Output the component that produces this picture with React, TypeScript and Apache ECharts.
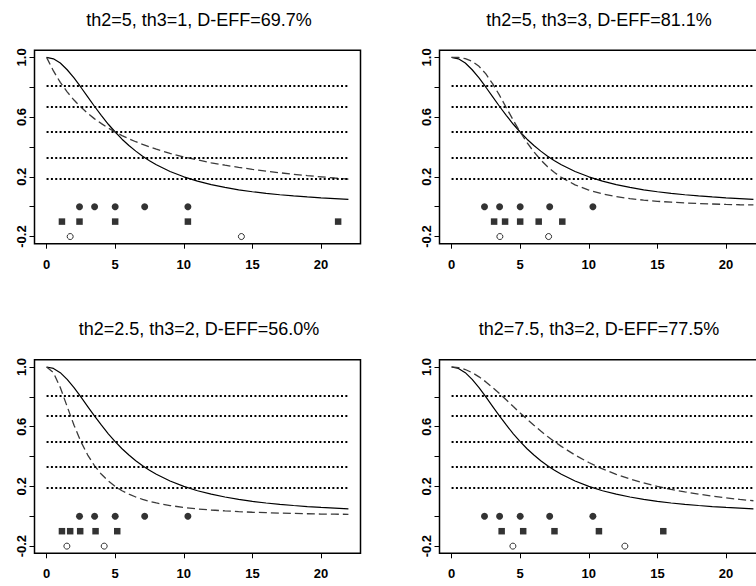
import React, { useEffect, useRef } from "react";
import * as echarts from "echarts";

// ---- data ----
const X_GRID = [0, 0.5, 1, 1.5, 2, 2.5, 3, 3.5, 4, 4.5, 5, 5.5, 6, 6.5, 7, 7.5, 8, 9, 10, 11, 12, 13, 14, 15, 16, 17, 18, 19, 20, 21, 22];

// solid reference curve (same in every panel)
const SOLID_Y = [1, 0.99, 0.962, 0.917, 0.862, 0.8, 0.735, 0.671, 0.61, 0.552, 0.5, 0.452, 0.41, 0.372, 0.338, 0.308, 0.281, 0.236, 0.2, 0.171, 0.148, 0.129, 0.113, 0.1, 0.089, 0.08, 0.072, 0.065, 0.059, 0.054, 0.049];

// dashed curves, one per panel
const DASH_P1 = [1, 0.909, 0.833, 0.769, 0.714, 0.667, 0.625, 0.588, 0.556, 0.526, 0.5, 0.476, 0.455, 0.435, 0.417, 0.4, 0.385, 0.357, 0.333, 0.313, 0.294, 0.278, 0.263, 0.25, 0.238, 0.227, 0.217, 0.208, 0.2, 0.192, 0.185];
const DASH_P2 = [1, 0.999, 0.992, 0.974, 0.94, 0.889, 0.822, 0.745, 0.661, 0.578, 0.5, 0.429, 0.367, 0.313, 0.267, 0.229, 0.196, 0.146, 0.111, 0.086, 0.067, 0.054, 0.044, 0.036, 0.03, 0.025, 0.021, 0.018, 0.015, 0.013, 0.012];
const DASH_P3 = [1, 0.962, 0.862, 0.735, 0.61, 0.5, 0.41, 0.338, 0.281, 0.236, 0.2, 0.171, 0.148, 0.129, 0.113, 0.1, 0.089, 0.072, 0.059, 0.049, 0.042, 0.036, 0.031, 0.027, 0.024, 0.021, 0.019, 0.017, 0.015, 0.014, 0.013];
const DASH_P4 = [1, 0.996, 0.983, 0.962, 0.934, 0.9, 0.862, 0.821, 0.779, 0.735, 0.692, 0.65, 0.61, 0.571, 0.534, 0.5, 0.468, 0.41, 0.36, 0.317, 0.281, 0.25, 0.223, 0.2, 0.18, 0.163, 0.148, 0.135, 0.123, 0.113, 0.104];

// dotted horizontal reference levels
const DOTTED_LEVELS = [0.81, 0.67, 0.5, 0.33, 0.19];

// design points
const FILLED_CIRCLES_X = [2.4, 3.5, 5, 7.15, 10.3];
const FILLED_CIRCLES_Y = 0;
const SQUARES_Y = -0.1;
const OPEN_CIRCLES_Y = -0.2;
const SQUARES_P1 = [1.12, 2.4, 5, 10.3, 21.25];
const OPEN_P1 = [1.72, 14.2];
const SQUARES_P2 = [3.1, 3.9, 5, 6.35, 8.07];
const OPEN_P2 = [3.52, 7.07];
const SQUARES_P3 = [1.12, 1.72, 2.45, 3.57, 5.15];
const OPEN_P3 = [1.48, 4.2];
const SQUARES_P4 = [3.65, 5.22, 7.5, 10.74, 15.43];
const OPEN_P4 = [4.47, 12.63];

const TITLES = [
  "th2=5, th3=1, D-EFF=69.7%",
  "th2=5, th3=3, D-EFF=81.1%",
  "th2=2.5, th3=2, D-EFF=56.0%",
  "th2=7.5, th3=2, D-EFF=77.5%",
];

const X_TICKS = [0, 5, 10, 15, 20];
const Y_TICKS = [-0.2, 0, 0.2, 0.4, 0.6, 0.8, 1.0];
const Y_LABELS = [-0.2, 0.2, 0.6, 1.0];

const X_MIN = -0.88, X_MAX = 22.88, Y_MIN = -0.248, Y_MAX = 1.048;

// ---- layout ----
const FONT = "'Liberation Sans', Arial, Helvetica, sans-serif";
const GRIDS = [
  { left: 34.5, top: 50.2, width: 326, height: 193.5 },
  { left: 439.5, top: 50.2, width: 326, height: 193.5 },
  { left: 34.5, top: 359.8, width: 326, height: 193.5 },
  { left: 439.5, top: 359.8, width: 326, height: 193.5 },
];
const TITLE_POS = [
  { x: 199, y: 20 },
  { x: 599, y: 20 },
  { x: 199, y: 329 },
  { x: 599, y: 329 },
];

const PANELS = [
  { dash: DASH_P1, squares: SQUARES_P1, open: OPEN_P1 },
  { dash: DASH_P2, squares: SQUARES_P2, open: OPEN_P2 },
  { dash: DASH_P3, squares: SQUARES_P3, open: OPEN_P3 },
  { dash: DASH_P4, squares: SQUARES_P4, open: OPEN_P4 },
];

function buildOption() {
  const grid = GRIDS.map((g) => ({
    ...g,
    show: true,
    borderColor: "#000",
    borderWidth: 1.5,
    backgroundColor: "transparent",
    containLabel: false,
    outerBoundsMode: "none",
  }));
  const xAxis = GRIDS.map((_, i) => ({
    type: "value",
    gridIndex: i,
    position: "bottom",
    min: X_MIN,
    max: X_MAX,
    axisLine: { show: false, onZero: false },
    splitLine: { show: false },
    axisTick: { show: true, inside: false, length: 5, customValues: X_TICKS, lineStyle: { color: "#000", width: 1 } },
    axisLabel: {
      show: true,
      customValues: X_TICKS,
      margin: 14,
      fontSize: 13,
      fontWeight: "bold",
      fontFamily: FONT,
      color: "#000",
      formatter: (v: number) => String(v),
    },
  }));
  const yAxis = GRIDS.map((_, i) => ({
    type: "value",
    gridIndex: i,
    position: "left",
    min: Y_MIN,
    max: Y_MAX,
    axisLine: { show: false, onZero: false },
    splitLine: { show: false },
    axisTick: { show: true, inside: false, length: 5, customValues: Y_TICKS, lineStyle: { color: "#000", width: 1 } },
    axisLabel: {
      show: true,
      customValues: Y_LABELS,
      rotate: 90,
      margin: 7,
      fontSize: 13,
      fontWeight: "bold",
      fontFamily: FONT,
      color: "#000",
      formatter: (v: number) => v.toFixed(1),
    },
  }));

  const series: any[] = [];
  PANELS.forEach((p, i) => {
    // dotted reference levels
    series.push({
      type: "line",
      xAxisIndex: i,
      yAxisIndex: i,
      data: [],
      silent: true,
      markLine: {
        silent: true,
        symbol: ["none", "none"],
        label: { show: false },
        lineStyle: { color: "#000", width: 2, type: [2, 2.33], cap: "butt" },
        data: DOTTED_LEVELS.map((lv) => [{ coord: [0, lv] }, { coord: [22, lv] }]),
      },
    });
    series.push({
      type: "line",
      xAxisIndex: i,
      yAxisIndex: i,
      data: X_GRID.map((x, k) => [x, SOLID_Y[k]]),
      symbol: "none",
      lineStyle: { color: "#000", width: 1.2, type: "solid" },
    });
    series.push({
      type: "line",
      xAxisIndex: i,
      yAxisIndex: i,
      data: X_GRID.map((x, k) => [x, p.dash[k]]),
      symbol: "none",
      lineStyle: { color: "#3a3a3a", width: 1.3, type: [8, 4] },
    });
    series.push({
      type: "scatter",
      xAxisIndex: i,
      yAxisIndex: i,
      data: FILLED_CIRCLES_X.map((x) => [x, FILLED_CIRCLES_Y]),
      symbol: "circle",
      symbolSize: 7,
      itemStyle: { color: "#000" },
    });
    series.push({
      type: "scatter",
      xAxisIndex: i,
      yAxisIndex: i,
      data: p.squares.map((x) => [x, SQUARES_Y]),
      symbol: "rect",
      symbolSize: 6.5,
      itemStyle: { color: "#000" },
    });
    series.push({
      type: "scatter",
      xAxisIndex: i,
      yAxisIndex: i,
      data: p.open.map((x) => [x, OPEN_CIRCLES_Y]),
      symbol: "circle",
      symbolSize: 6,
      itemStyle: { color: "#fff", borderColor: "#000", borderWidth: 1 },
    });
  });

  const graphic = TITLES.map((t, i) => ({
    type: "text",
    x: TITLE_POS[i].x,
    y: TITLE_POS[i].y,
    style: {
      text: t,
      fontSize: 18,
      fontFamily: FONT,
      fill: "#000",
      align: "center",
      verticalAlign: "middle",
    },
  }));

  return {
    animation: false,
    backgroundColor: "#fff",
    grid,
    xAxis,
    yAxis,
    series,
    graphic,
  };
}

export default function App() {
  const ref = useRef<HTMLDivElement>(null);
  useEffect(() => {
    if (!ref.current) return;
    const chart = echarts.init(ref.current, undefined, { renderer: "svg" });
    chart.setOption(buildOption() as any);
    return () => chart.dispose();
  }, []);
  return (
    <div style={{ position: "absolute", left: 0, top: 0, width: 756, height: 586, overflow: "hidden", background: "#fff" }}>
      <div ref={ref} style={{ width: 772, height: 586 }} />
    </div>
  );
}
